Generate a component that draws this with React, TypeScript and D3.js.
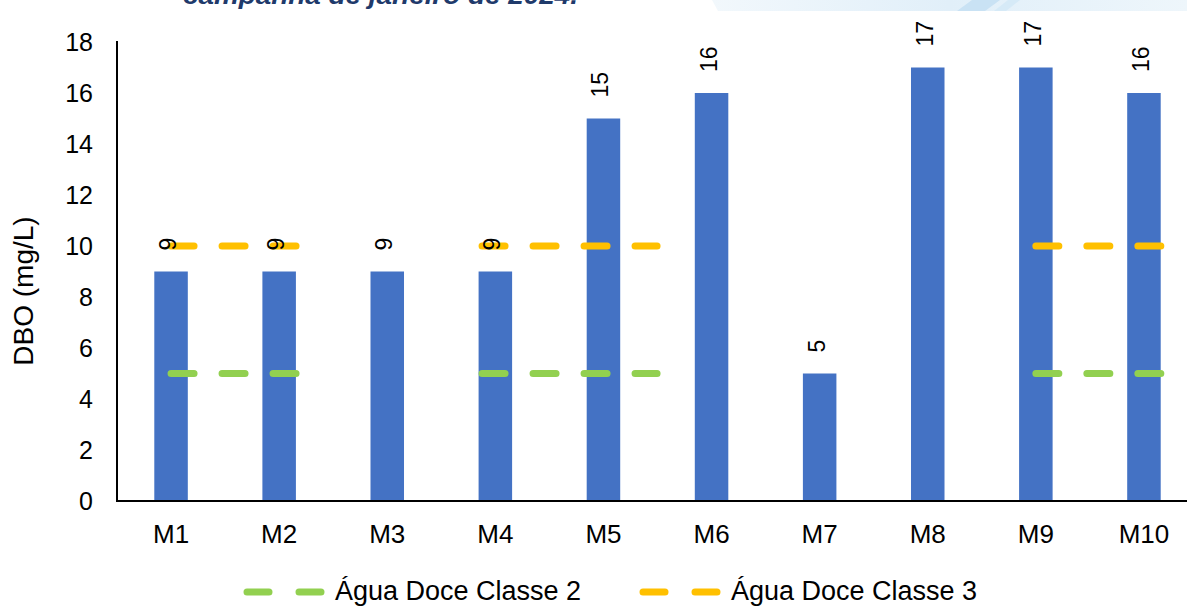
import React from "react";
import * as d3 from "d3";

const categories = ["M1", "M2", "M3", "M4", "M5", "M6", "M7", "M8", "M9", "M10"];
const dboValues = [9, 9, 9, 9, 15, 16, 5, 17, 17, 16];
const yTicks = [0, 2, 4, 6, 8, 10, 12, 14, 16, 18];
// limit segments in category-index units [from, to]
const classe2Value = 5;
const classe3Value = 10;
const limitSegments: [number, number][] = [
  [0, 1.166],
  [2.877, 4.496],
  [8.0, 9.156],
];
const legendItems = [
  { label: "Água Doce Classe 2", color: "#92D050" },
  { label: "Água Doce Classe 3", color: "#FFC000" },
];
const titleText = "campanha de janeiro de 2024.";

const W = 1187;
const H = 607;
const FONT = "'Liberation Sans', Arial, sans-serif";

export default function App() {
  const x = d3
    .scaleBand<string>()
    .domain(categories)
    .range([117, 1198])
    .paddingInner(0.69)
    .paddingOuter(0.345);
  const y = d3.scaleLinear().domain([0, 18]).range([501, 42]);
  const step = x.step();
  const bw = x.bandwidth();
  const cx = (i: number) => (x(categories[0]) as number) + bw / 2 + i * step;

  const line = d3
    .line<number>()
    .x((d) => d[0])
    .y((d) => d[1]);

  const segPath = (seg: [number, number], v: number) =>
    line([
      [cx(seg[0]), y(v)],
      [cx(seg[1]), y(v)],
    ] as any) as string;

  return (
    <svg
      width={W}
      height={H}
      style={{ position: "absolute", left: 0, top: 0, background: "#fff" }}
      fontFamily={FONT}
    >
      <defs>
        <linearGradient id="deco" x1="0" x2="1" y1="0" y2="0">
          <stop offset="0" stopColor="#f2f8fc" />
          <stop offset="0.5" stopColor="#e1eff9" />
          <stop offset="1" stopColor="#eef6fb" />
        </linearGradient>
      </defs>
      {/* decorative header band */}
      <polygon points="712,0 1187,0 1187,11 718,11" fill="url(#deco)" />
      <polygon points="972,0 1000,0 985,11 957,11" fill="#c9e2f4" />
      <polygon points="1008,0 1020,0 1006,11 994,11" fill="#d6eaf7" />
      {/* cropped title */}
      <text
        x={183}
        y={4}
        fontSize={26}
        fontWeight="bold"
        fontStyle="italic"
        fill="#1F3A6B"
        textLength={395}
        lengthAdjust="spacingAndGlyphs"
      >
        {titleText}
      </text>

      {/* bars */}
      {dboValues.map((v, i) => (
        <rect
          key={categories[i]}
          x={x(categories[i])}
          y={y(v)}
          width={bw}
          height={y(0) - y(v)}
          fill="#4472C4"
        />
      ))}

      {/* axes */}
      <line x1={117} x2={117} y1={41} y2={501} stroke="#000" strokeWidth={2} />
      <line x1={116} x2={1198} y1={501} y2={501} stroke="#000" strokeWidth={2} />

      {/* y tick labels */}
      {yTicks.map((t) => (
        <text
          key={t}
          x={93}
          y={y(t)}
          textAnchor="end"
          dominantBaseline="central"
          fontSize={25}
          fill="#000"
        >
          {t}
        </text>
      ))}

      {/* category labels */}
      {categories.map((c) => (
        <text
          key={c}
          x={(x(c) as number) + bw / 2}
          y={543}
          textAnchor="middle"
          fontSize={26}
          fill="#000"
        >
          {c}
        </text>
      ))}

      {/* y axis title */}
      <text
        transform={`translate(23,291) rotate(-90)`}
        textAnchor="middle"
        dominantBaseline="central"
        fontSize={28}
        fill="#000"
      >
        DBO (mg/L)
      </text>

      {/* limit lines */}
      {limitSegments.map((s, i) => (
        <path
          key={"c2" + i}
          d={segPath(s, classe2Value)}
          stroke="#92D050"
          strokeWidth={7}
          strokeLinecap="round"
          strokeDasharray="23 28"
          fill="none"
        />
      ))}
      {limitSegments.map((s, i) => (
        <path
          key={"c3" + i}
          d={segPath(s, classe3Value)}
          stroke="#FFC000"
          strokeWidth={7}
          strokeLinecap="round"
          strokeDasharray="23 28"
          fill="none"
        />
      ))}

      {/* data labels */}
      {dboValues.map((v, i) => (
        <text
          key={"l" + i}
          transform={`translate(${(x(categories[i]) as number) + bw / 2 - 3},${y(v) - 21}) rotate(-90)`}
          textAnchor="start"
          dominantBaseline="central"
          fontSize={23}
          fill="#000"
        >
          {v}
        </text>
      ))}

      {/* legend */}
      {legendItems.map((it, i) => {
        const x0 = i === 0 ? 247 : 643;
        return (
          <g key={it.label}>
            <line
              x1={x0}
              x2={x0 + 75}
              y1={592}
              y2={592}
              stroke={it.color}
              strokeWidth={7}
              strokeLinecap="round"
              strokeDasharray="22 30"
            />
            <text x={x0 + 88} y={600} fontSize={27} fill="#000">
              {it.label}
            </text>
          </g>
        );
      })}
    </svg>
  );
}
